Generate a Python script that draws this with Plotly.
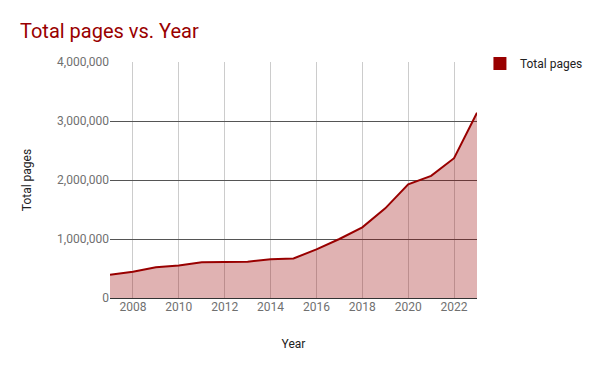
import plotly.graph_objects as go

years = list(range(2007, 2024))
total_pages = [395000, 445000, 520000, 550000, 605000, 610000, 615000, 655000, 670000,
               825000, 1000000, 1198000, 1520000, 1927000, 2070000, 2370000, 3140000]
series_name = "Total pages"
x_ticks = [2008, 2010, 2012, 2014, 2016, 2018, 2020, 2022]
y_ticks = [0, 1000000, 2000000, 3000000, 4000000]

RED = "#990000"
FONT = "Roboto"

fig = go.Figure()
fig.add_trace(go.Scatter(
    x=years, y=total_pages, mode="lines", name=series_name,
    line=dict(color=RED, width=2), fill="tozeroy", fillcolor="rgba(153,0,0,0.3)",
    showlegend=False, hoverinfo="x+y"))
fig.add_trace(go.Scatter(
    x=[None], y=[None], mode="markers", name=series_name,
    marker=dict(symbol="square", color=RED, size=13, line=dict(width=0)),
    showlegend=True))

fig.update_layout(
    width=600, height=371,
    margin=dict(l=110, r=123, t=62, b=73, autoexpand=False),
    paper_bgcolor="white", plot_bgcolor="white",
    font=dict(family=FONT, size=12, color="#444"),
    title=dict(text="Total pages vs. Year", x=20 / 600, xref="container", xanchor="left",
               font=dict(family=FONT, size=20, color=RED), y=1 - 31 / 371, yref="container",
               yanchor="middle"),
    legend=dict(x=1.008, y=1.055, xanchor="left", yanchor="top",
                font=dict(family=FONT, size=12, color="#222"), bgcolor="rgba(0,0,0,0)"),
    xaxis=dict(range=[2007, 2023], tickvals=x_ticks, showgrid=True, gridcolor="#cccccc",
               gridwidth=1, zeroline=False, showline=False, ticks="", automargin=False,
               tickfont=dict(family=FONT, size=12, color="#707070"),
               title=dict(text="Year", font=dict(family=FONT, size=12, color="#222"), standoff=26)),
    yaxis=dict(range=[0, 4000000], tickvals=y_ticks, tickformat=",d", showgrid=True,
               gridcolor="#555555", gridwidth=1, zeroline=True, zerolinecolor="#333333",
               zerolinewidth=1, showline=False, ticks="", ticklen=0, automargin=False,
               tickfont=dict(family=FONT, size=12, color="#707070"),
               title=dict(text="Total pages", font=dict(family=FONT, size=12, color="#222"), standoff=22)),
)
fig.write_html("out.html", config={"displayModeBar": False},
               post_script="document.body.style.margin='0';")
